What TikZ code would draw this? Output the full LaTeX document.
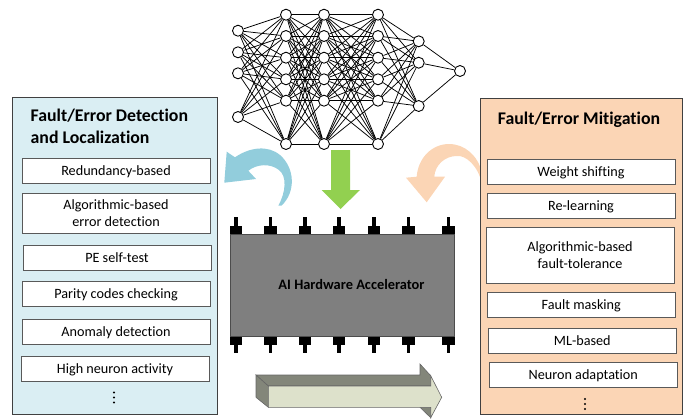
\documentclass[tikz,border=0pt]{standalone}
\usepackage{fontspec}
\setmainfont[Ligatures=NoCommon]{Carlito}
\definecolor{paneldet}{HTML}{DAEEF3}
\definecolor{panelmit}{HTML}{FBD5B5}
\definecolor{arrowdet}{HTML}{92CDDC}
\definecolor{arrowchip}{HTML}{92D050}
\definecolor{chipgray}{HTML}{7F7F7F}
\definecolor{blockfront}{HTML}{DDE1CB}
\definecolor{blockside}{HTML}{83867A}
\tikzset{
  panel/.style = {draw = black!75, line width = .7pt},
  itembox/.style = {draw = black!65, line width = .8pt, fill = white, minimum width = 188pt,
    minimum height = 25pt, inner sep = 0pt, align = center, text depth = 0pt, font = \fontsize{14.2}{17.5}\selectfont},
  paneltitle/.style = {inner sep = 0pt, align = left, font = \fontsize{17.8}{21.5}\selectfont\bfseries},
  neuron/.style = {circle, draw = black, line width = .9pt, fill = white, minimum size = 11pt, inner sep = 0pt},
  synapse/.style = {black, line width = .75pt},
  pinpart/.style = {fill = black}
}
\begin{document}
\begin{tikzpicture}[x = 1pt, y = -1pt]
  \useasboundingbox (0,0) rectangle (683,418);

  % curved arrows
  \fill[panelmit] (481.7,183) .. controls (478,166) and (466,155) .. (456.7,156)
    .. controls (445,156) and (435,165) .. (434.3,176.7) -- (445,176.7) -- (426.7,202.3)
    -- (406,177.7) -- (416.7,176.7) .. controls (418,158) and (432,144) .. (449,144)
    .. controls (465,144) and (478,156) .. (481.7,172) -- cycle;
  \fill[arrowdet] (278.3,205.7) .. controls (286,192) and (287,176) .. (279,170)
    .. controls (270,163) and (257,164) .. (248.3,170.7) -- (256,179) -- (224.3,182.7)
    -- (226.7,151.7) -- (235,157.3) .. controls (250,147) and (268,145) .. (280,155)
    .. controls (295,168) and (296,192) .. (281.5,205.7) -- cycle;

  % panels
  \node[panel, fill = paneldet, minimum width = 204.5pt, minimum height = 317pt, inner sep = 0pt] (detpanel) at (114.7,255.5) {};
  \node[panel, fill = panelmit, minimum width = 202pt, minimum height = 316pt, inner sep = 0pt] (mitpanel) at (581,256) {};

  \node[paneltitle, anchor = north west] (dettitle) at (30.5,109) {Fault/Error Detection\\and Localization};
  \node[paneltitle] (mittitle) at (579,120) {Fault/Error Mitigation};

  % detection items
  \node[itembox] (redundancy) at (116,170.5) {Redundancy-based};
  \node[itembox, minimum height = 40pt] (abed) at (116,213) {Algorithmic-based\\error detection};
  \node[itembox] (selftest) at (117,257.5) {PE self-test};
  \node[itembox] (parity) at (116,294) {Parity codes checking};
  \node[itembox] (anomaly) at (116,331.5) {Anomaly detection};
  \node[itembox] (activity) at (115,368.5) {High neuron activity};
  \foreach \y in {392.5,397.5,402.5}
    \fill[black] (114,\y) circle (1.1pt);

  % mitigation items
  \node[itembox] (shifting) at (581,171.5) {Weight shifting};
  \node[itembox] (relearning) at (581,205.5) {Re-learning};
  \node[itembox, minimum height = 56pt] (abft) at (580,255) {Algorithmic-based\\fault-tolerance};
  \node[itembox] (masking) at (581.3,304.5) {Fault masking};
  \node[itembox] (mlbased) at (582.3,340.5) {ML-based};
  \node[itembox] (adaptation) at (583.3,375) {Neuron adaptation};
  \foreach \y in {399,404,409}
    \fill[black] (585,\y) circle (1.1pt);

  % neural network
  \foreach \l/\x/\ys in {1/238/{30.7,52.3,73.3,117},
                         2/286/{14.7,36,57.7,79.3,100.7,144},
                         3/324/{14.7,36,57.7,79.3,100.7,144},
                         4/378/{14.7,36,57.7,79.3,100.7,144},
                         5/418.7/{41.3,62.7,106},
                         6/460/{71}}
    \foreach \y [count = \i] in \ys
      \node[neuron] (n\l-\i) at (\x,\y) {};
  \foreach \a/\na/\b/\nb in {1/4/2/6, 2/6/3/6, 3/6/4/6, 4/6/5/3, 5/3/6/1}
    \foreach \i in {1,...,\na}
      \foreach \j in {1,...,\nb}
        \draw[synapse] (n\a-\i) -- (n\b-\j);

  % arrow into the chip
  \fill[arrowchip] (331,150) -- (350,150) -- (350,190) -- (360,190) -- (340.5,209) -- (321.7,190) -- (331,190) -- cycle;

  % pins
  \foreach \x in {236,270.7,305,339,374,408.3,448.5} {
    \fill[pinpart] (\x-6.3,225.7) rectangle (\x+6.3,235);
    \fill[pinpart] (\x-1.7,217) rectangle (\x+1.7,226);
    \fill[pinpart] (\x-6.3,335) rectangle (\x+6.3,345);
    \fill[pinpart] (\x-1.7,345) rectangle (\x+1.7,353);
  }
  \node[draw = black!70, line width = .8pt, fill = chipgray, minimum width = 223.5pt, minimum height = 102pt, inner sep = 0pt] (chip) at (342.3,285) {};
  \node[inner sep = 0pt, font = \fontsize{14.4}{17}\selectfont\bfseries] (chiplabel) at (351.5,284) {AI Hardware Accelerator};

  % block arrow
  \begin{scope}[draw = black!60, line width = .6pt]
    \filldraw[fill = blockside] (256,375) -- (420,375) -- (420,364) -- (430.7,375.7) -- (430.7,386) -- (268.3,386) -- cycle;
    \filldraw[fill = blockside] (256,375) -- (268.3,386) -- (268.3,407.3) -- (256,397.3) -- cycle;
    \filldraw[fill = blockside] (420,407.3) -- (430.7,407.3) -- (430.7,417.7) -- cycle;
    \filldraw[fill = blockfront] (268.3,386) -- (430.7,386) -- (430.7,375.7) -- (441.7,397.3) -- (430.7,417.7) -- (430.7,407.3) -- (268.3,407.3) -- cycle;
  \end{scope}
\end{tikzpicture}
\end{document}
